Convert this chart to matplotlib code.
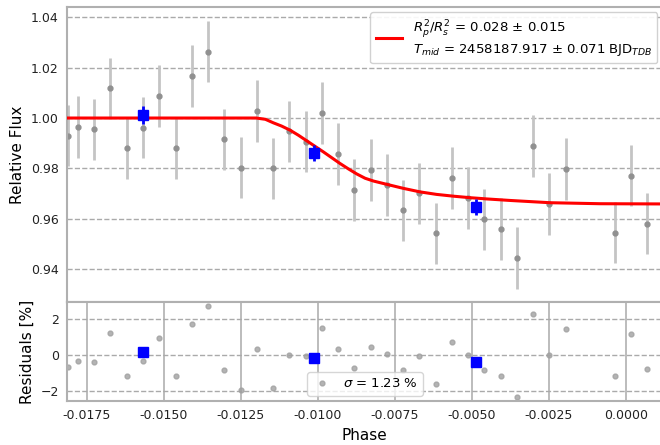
import matplotlib
matplotlib.use("Agg")
from matplotlib import pyplot as plt

# binned-in-time photometry (grey points)
phase = [-0.01812, -0.01778, -0.01725, -0.01673, -0.01620, -0.01567, -0.01514,
         -0.01461, -0.01409, -0.01356, -0.01303, -0.01250, -0.01198, -0.01145,
         -0.01092, -0.01039, -0.00987, -0.00933, -0.00881, -0.00828, -0.00775,
         -0.00722, -0.00670, -0.00617, -0.00564, -0.00512, -0.00459, -0.00406,
         -0.00353, -0.00301, -0.00248, -0.00195, -0.00036, 0.00017, 0.00069]
flux = [0.9930, 0.9964, 0.9955, 1.0118, 0.9881, 0.9962, 1.0087,
        0.9882, 1.0167, 1.0263, 0.9915, 0.9803, 1.0027, 0.9800,
        0.9947, 0.9906, 1.0019, 0.9858, 0.9714, 0.9793, 0.9735,
        0.9634, 0.9701, 0.9542, 0.9763, 0.9683, 0.9598, 0.9560,
        0.9444, 0.9889, 0.9658, 0.9798, 0.9545, 0.9771, 0.9581]
flux_err = [0.0122] * len(phase)
resid = [-0.70, -0.34, -0.43, 1.22, -1.18, -0.36, 0.92,
         -1.18, 1.73, 2.72, -0.85, -1.97, 0.30, -1.86,
         -0.02, -0.08, 1.50, 0.30, -0.73, 0.41, 0.02,
         -0.87, -0.08, -1.63, 0.73, -0.02, -0.85, -1.18,
         -2.35, 2.29, -0.04, 1.41, -1.17, 1.16, -0.81]

# larger bins (blue squares)
bin_phase = [-0.01566, -0.01013, -0.00486]
bin_flux = [1.0012, 0.9861, 0.9647]
bin_err = [0.0036, 0.0030, 0.0033]
bin_resid = [0.15, -0.21, -0.39]

# best-fit transit model
model_phase = [-0.0185, -0.01200, -0.01170, -0.01144, -0.01117, -0.01090, -0.01063,
               -0.01036, -0.01009, -0.00982, -0.00955, -0.00928, -0.00900, -0.00873,
               -0.00846, -0.00819, -0.00776, -0.00722, -0.00668, -0.00614, -0.00560,
               -0.00506, -0.00451, -0.00376, -0.00246, -0.00083, 0.0015]
model_flux = [1.0000, 1.0000, 0.9995, 0.9981, 0.9968, 0.9952, 0.9932,
              0.9910, 0.9888, 0.9866, 0.9843, 0.9820, 0.9798, 0.9778,
              0.9761, 0.9750, 0.9737, 0.9721, 0.9707, 0.9697, 0.9690,
              0.9684, 0.9679, 0.9673, 0.9664, 0.9660, 0.9659]

fig = plt.figure(figsize=(6.6, 4.45), dpi=100)
ax = fig.add_axes([0.1015, 0.3213, 0.9025, 0.6627])
axr = fig.add_axes([0.1015, 0.0989, 0.9025, 0.2224], sharex=ax)

spine_c = "#b0b0b0"
for a in (ax, axr):
    for s in a.spines.values():
        s.set_color(spine_c)
        s.set_linewidth(1.5)
    a.tick_params(length=0, labelsize=9, colors="#222222", pad=6)

# ------------ top panel
ax.errorbar(phase, flux, yerr=flux_err, fmt="o", color="#909090", ms=3.5,
            ecolor="#c4c4c4", elinewidth=2, zorder=2)
ax.errorbar(bin_phase, bin_flux, yerr=bin_err, fmt="s", color="blue", ms=7,
            ecolor="blue", elinewidth=2, zorder=4)
ax.plot(model_phase, model_flux, color="red", lw=2.2, zorder=3,
        label=r"$R_p^2/R_s^2$ = 0.028 $\pm$ 0.015" + "\n"
              + r"$T_{mid}$ = 2458187.917 $\pm$ 0.071 BJD$_{TDB}$")
ax.set_ylim(0.927, 1.044)
ax.set_yticks([0.94, 0.96, 0.98, 1.00, 1.02, 1.04])
ax.grid(axis="y", ls="--", color="#aaaaaa", lw=1)
ax.set_ylabel("Relative Flux", fontsize=11)
ax.tick_params(labelbottom=False)
ax.legend(loc="upper right", fontsize=9.5, edgecolor="#cccccc", framealpha=0.9,
          handlelength=2.0, handletextpad=0.8, borderaxespad=0.4)

# ------------ residuals
axr.plot(phase, resid, "o", color="#a0a0a0", ms=3.5, alpha=0.8,
         label=r"$\sigma$ = 1.23 %")
axr.plot(bin_phase, bin_resid, "s", color="blue", ms=7)
axr.set_ylim(-2.58, 2.94)
axr.set_yticks([-2, 0, 2])
axr.set_xlim(-0.01814, 0.00120)
axr.set_xticks([-0.0175, -0.0150, -0.0125, -0.0100, -0.0075, -0.0050, -0.0025, 0.0])
axr.xaxis.set_major_formatter(matplotlib.ticker.FormatStrFormatter("%.4f"))
axr.grid(axis="x", ls="-", color="#b0b0b0", lw=1.2)
axr.grid(axis="y", ls="--", color="#aaaaaa", lw=1)
axr.set_xlabel("Phase", fontsize=11)
axr.set_ylabel("Residuals [%]", fontsize=11)
axr.legend(loc="lower center", fontsize=9.5, edgecolor="#cccccc", framealpha=0.8,
           handlelength=1.5, borderaxespad=0.4)

fig.savefig("out.png", dpi=100)
